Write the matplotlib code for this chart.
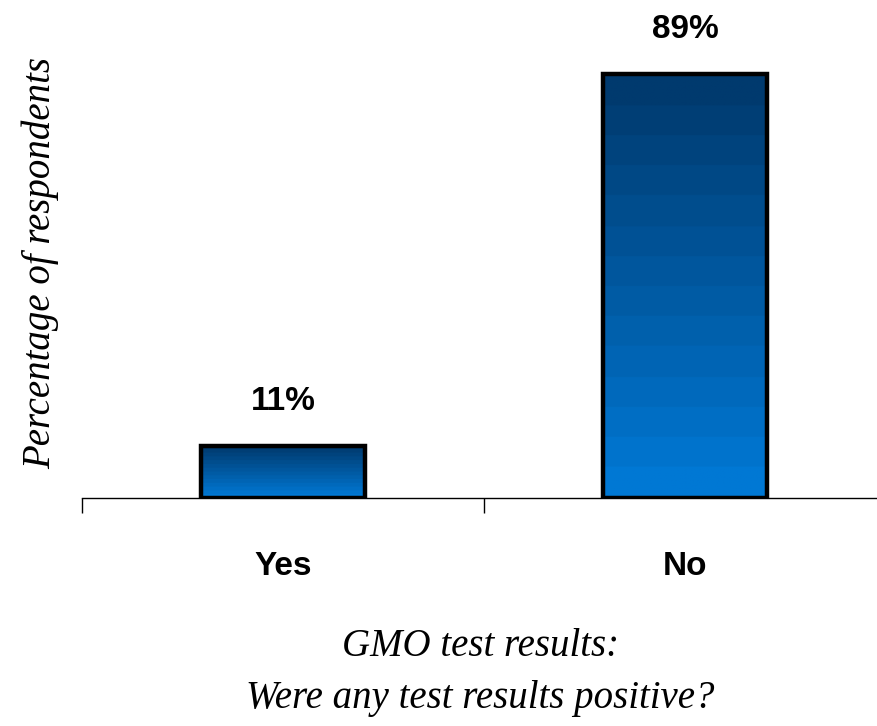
import numpy as np
import matplotlib
matplotlib.use("Agg")
import matplotlib.pyplot as plt
from matplotlib.colors import LinearSegmentedColormap

categories = ["Yes", "No"]
values = [11, 89]
labels = ["11%", "89%"]

bold_font = ["Liberation Sans Narrow", "Liberation Sans", "DejaVu Sans"]
serif_font = ["Liberation Serif", "DejaVu Serif"]

fig = plt.figure(figsize=(8.77, 7.26), dpi=100)
ax = fig.add_axes([82 / 877, 228 / 726, 804 / 877, 476.4 / 726])

cmap = LinearSegmentedColormap.from_list("blue", ["#0078d4", "#003a6e"], N=14)
x = np.arange(len(categories))
bars = ax.bar(x, values, width=0.41, color="none", edgecolor="black", linewidth=3.2, zorder=3)
for b in bars:
    x0, w, h = b.get_x(), b.get_width(), b.get_height()
    grad = np.linspace(0, 1, 256).reshape(-1, 1)
    im = ax.imshow(grad, cmap=cmap, aspect="auto", origin="lower",
                   extent=(x0, x0 + w, 0, h), zorder=2)
    im.set_clip_path(b)

for xi, v, lab in zip(x, values, labels):
    ax.text(xi, v + 6.0, lab, ha="center", va="bottom", fontsize=24,
            fontweight="bold", family=bold_font)

ax.set_xlim(-0.5, 1.5)
ax.set_ylim(0, 100)
for s in ["top", "right", "left"]:
    ax.spines[s].set_visible(False)
ax.spines["bottom"].set_linewidth(1.0)
ax.set_yticks([])
ax.set_xticks(x)
ax.set_xticklabels(categories, fontsize=24, fontweight="bold", family=bold_font)
ax.tick_params(axis="x", which="major", length=0, pad=38)
ax.set_xticks([-0.5, 0.5, 1.5], minor=True)
ax.tick_params(axis="x", which="minor", length=11, width=1.0)

fig.text(0.548, 0.109, "GMO test results:", ha="center", va="center",
         fontsize=28, style="italic", family=serif_font)
fig.text(0.548, 0.038, "Were any test results positive?", ha="center", va="center",
         fontsize=28, style="italic", family=serif_font)
fig.text(0.046, 0.638, "Percentage of respondents", ha="center", va="center",
         rotation=90, fontsize=28, style="italic", family=serif_font)

fig.savefig("out.png", dpi=100)
